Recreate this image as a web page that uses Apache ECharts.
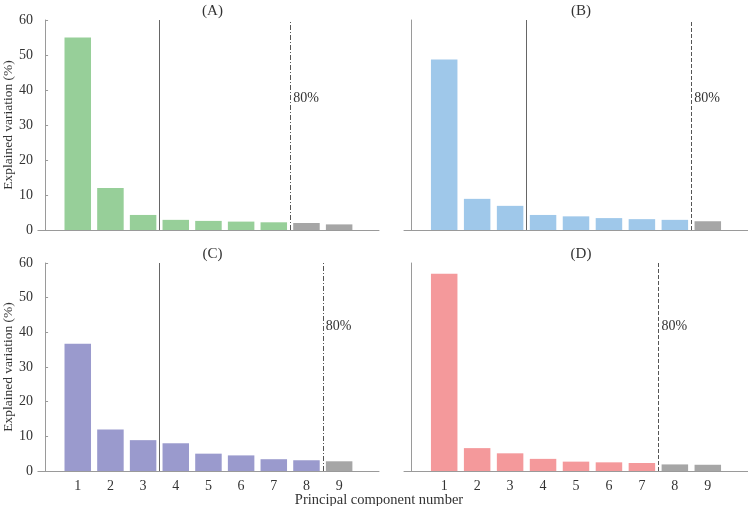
<!DOCTYPE html>
<html><head><meta charset="utf-8">
<script src="https://cdn.jsdelivr.net/npm/echarts@6/dist/echarts.min.js"></script>
<style>html,body{margin:0;padding:0;background:#fff}#c{width:748px;height:506px}</style>
</head><body><div id="c"></div>
<script>
const components = [1, 2, 3, 4, 5, 6, 7, 8, 9];
const panelTitles = ['(A)', '(B)', '(C)', '(D)'];
const valuesA = [55, 12, 4.3, 2.9, 2.6, 2.4, 2.2, 2.0, 1.6];
const valuesB = [48.7, 8.9, 6.9, 4.3, 3.9, 3.4, 3.1, 2.9, 2.5];
const valuesC = [36.7, 12.0, 8.9, 8.0, 5.0, 4.5, 3.4, 3.1, 2.8];
const valuesD = [56.9, 6.6, 5.1, 3.5, 2.7, 2.5, 2.3, 1.9, 1.8];
const solidLines = [3.5, 3.5, 3.5, null];
const cutLines = [7.5, 8.5, 8.5, 7.5];
const cutLabel = '80%';
const labelHeights = [37.7, 37.5, 41.8, 41.8];
const yTicks = [0, 10, 20, 30, 40, 50, 60];
const yTitle = 'Explained variation (%)';
const xTitle = 'Principal component number';

const allValues = [valuesA, valuesB, valuesC, valuesD];
const colors = ['#97cf99', '#9fc8ea', '#9a9acd', '#f4999b'];
const grey = '#a6a6a6';
const font = 'Liberation Serif';
const grids = [
  {left: 36, top: 20, width: 343, height: 210},
  {left: 404, top: 20, width: 344, height: 210},
  {left: 36, top: 263, width: 343, height: 208},
  {left: 404, top: 263, width: 344, height: 208}
];
const dashTypes = [[5,2,1,2],[4,2],[5,2,1,2],[4,2]];

const option = {
  animation: false,
  textStyle: {fontFamily: font},
  title: panelTitles.map((t, i) => ({
    text: t, left: grids[i].left + grids[i].width / 2, top: grids[i].top - 21,
    textAlign: 'center',
    textStyle: {fontFamily: font, fontSize: 15, fontWeight: 'normal', color: '#333'}
  })).concat([{
    text: xTitle, left: 374, top: 488, textAlign: 'center',
    textStyle: {fontFamily: font, fontSize: 14.5, fontWeight: 'normal', color: '#333'}
  }]),
  grid: grids,
  xAxis: grids.map((g, i) => ({
    type: 'value', gridIndex: i, min: -0.22, max: 10.22,
    splitLine: {show: false},
    axisLine: {lineStyle: {color: '#9a9a9a'}},
    axisTick: {show: true, inside: true, length: 3, customValues: components, lineStyle: {color: '#888'}},
    axisLabel: {show: i >= 2, customValues: components, fontFamily: font, fontSize: 14, color: '#333', margin: 8}
  })),
  yAxis: grids.map((g, i) => ({
    type: 'value', gridIndex: i, min: 0, max: 60, interval: 10,
    splitLine: {show: false},
    axisLine: {show: true, lineStyle: {color: '#9a9a9a'}},
    axisTick: {show: i % 2 === 0, inside: true, length: 3, lineStyle: {color: '#9a9a9a'}},
    axisLabel: {show: i % 2 === 0, fontFamily: font, fontSize: 14, color: '#333', margin: 5},
    name: i % 2 === 0 ? yTitle : '',
    nameLocation: 'middle', nameRotate: 90, nameGap: 22,
    nameTextStyle: {fontFamily: font, fontSize: 13.5, color: '#333'}
  })),
  series: allValues.map((vals, i) => {
    const lines = [];
    if (solidLines[i] !== null) {
      lines.push({x: solidLines[i], style: {type: 'solid', color: '#666', width: 1}});
    }
    lines.push({x: cutLines[i], style: {type: dashTypes[i], color: '#555', width: 1}});
    return {
      type: 'bar', xAxisIndex: i, yAxisIndex: i, barWidth: 26.5,
      data: vals.map((v, k) => ({
        value: [components[k], v],
        itemStyle: {color: components[k] > cutLines[i] ? grey : colors[i]}
      })),
      markLine: {
        silent: true, symbol: 'none',
        data: lines.map(l => [
          {coord: [l.x, 0], lineStyle: l.style, label: {show: false}},
          {coord: [l.x, 60]}
        ])
      },
      markPoint: {
        silent: true, symbol: 'circle', symbolSize: 0,
        data: [{coord: [cutLines[i], labelHeights[i]], value: cutLabel,
          label: {show: true, position: 'right', distance: 3, formatter: cutLabel, fontFamily: font, fontSize: 14, color: '#333'}}]
      }
    };
  })
};
const chart = echarts.init(document.getElementById('c'), null, {renderer: 'canvas'});
chart.setOption(option);
</script></body></html>
